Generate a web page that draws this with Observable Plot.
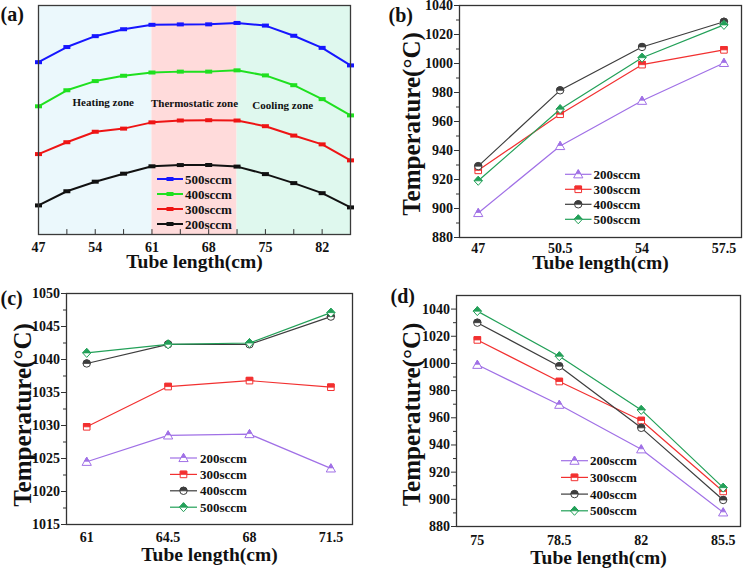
<!DOCTYPE html>
<html>
<head>
<meta charset="utf-8">
<script src="https://cdn.jsdelivr.net/npm/d3@7"></script>
<script src="https://cdn.jsdelivr.net/npm/@observablehq/plot@0.6"></script>
<style>
  html, body { margin: 0; padding: 0; background: #fff; }
  #chart { position: relative; width: 746px; height: 568px; overflow: hidden; }
  #chart svg { position: absolute; overflow: visible; }
</style>
</head>
<body>
<div id="chart"></div>
<script>
// ---------- data ----------
const flows = ["200sccm", "300sccm", "400sccm", "500sccm"];
const lenB = [47, 50.5, 54, 57.5];
const lenC = [61, 64.5, 68, 71.5];
const lenD = [75, 78.5, 82, 85.5];
// panel (b): heating zone
const b200 = [896.9, 943.1, 974.3, 1000.4];
const b300 = [926.3, 965.0, 999.2, 1009.4];
const b400 = [929.2, 981.5, 1011.4, 1028.8];
const b500 = [919.1, 968.5, 1004.0, 1026.6];
// panel (c): thermostatic zone
const c200 = [1024.5, 1028.5, 1028.7, 1023.5];
const c300 = [1029.8, 1035.9, 1036.8, 1035.8];
const c400 = [1039.4, 1042.3, 1042.3, 1046.5];
const c500 = [1041.0, 1042.3, 1042.5, 1047.1];
// panel (d): cooling zone
const d200 = [999.0, 969.6, 936.8, 890.4];
const d300 = [1017.3, 986.7, 958.0, 905.8];
const d400 = [1030.0, 998.0, 952.6, 899.5];
const d500 = [1038.5, 1005.3, 965.8, 908.6];
// panel (a): same readings along the whole tube, curves lifted by an offset
const aOffset = [0, 138, 291, 445];
const zoneNames = ["Heating zone", "Thermostatic zone", "Cooling zone"];
const zoneStart = [47, 61, 71.5];
const zoneEnd = [61, 71.5, 85.5];
const ticksA = [47, 54, 61, 68, 75, 82];
const ticksBMajor = [880, 900, 920, 940, 960, 980, 1000, 1020, 1040];
const ticksBMinor = [890, 910, 930, 950, 970, 990, 1010, 1030];
const ticksCMajor = [1015, 1020, 1025, 1030, 1035, 1040, 1045, 1050];
const ticksCMinor = [1017.5, 1022.5, 1027.5, 1032.5, 1037.5, 1042.5, 1047.5];

// ---------- styling ----------
const FONT = "'Liberation Serif', 'Times New Roman', serif";
const INK = "#111";
const flowColor = ["#a070e6", "#f23030", "#3d3d3d", "#22a058"];
const aColor = ["#111111", "#ee1414", "#1fe01f", "#1616ff"];
const zoneFill = ["#ebf8fc", "#ffdbdb", "#dff8ee"];
const symR = [4.2, 3.3, 3.7, 4.1];

const rad = s => Math.sqrt(s / Math.PI);
const triFull = {draw(c, s) { const r = rad(s); c.moveTo(0, -1.1 * r); c.lineTo(1.1 * r, 0.85 * r); c.lineTo(-1.1 * r, 0.85 * r); c.closePath(); }};
const triHalf = {draw(c, s) { const r = rad(s); const ym = -0.125 * r; const f = (ym + 1.1 * r) / (1.95 * r);
  c.moveTo(0, -1.1 * r); c.lineTo(1.1 * r * f, ym); c.lineTo(-1.1 * r * f, ym); c.closePath(); }};
const sqFull = {draw(c, s) { const r = rad(s); c.rect(-r, -r, 2 * r, 2 * r); }};
const sqHalf = {draw(c, s) { const r = rad(s); c.rect(-r, -r, 2 * r, r); }};
const ciFull = {draw(c, s) { const r = rad(s); c.moveTo(r, 0); c.arc(0, 0, r, 0, 2 * Math.PI); c.closePath(); }};
const ciHalf = {draw(c, s) { const r = rad(s); c.moveTo(r, 0); c.arc(0, 0, r, 0, Math.PI, true); c.closePath(); }};
const diFull = {draw(c, s) { const r = rad(s); c.moveTo(0, -1.1 * r); c.lineTo(r, 0); c.lineTo(0, 1.1 * r); c.lineTo(-r, 0); c.closePath(); }};
const diHalf = {draw(c, s) { const r = rad(s); c.moveTo(0, -1.1 * r); c.lineTo(r, 0); c.lineTo(-r, 0); c.closePath(); }};
const boxSym = {draw(c, s) { c.rect(-3.5, -2, 7, 4); }};
const fullSym = [triFull, sqFull, ciFull, diFull];
const halfSym = [triHalf, sqHalf, ciHalf, diHalf];

const chart = document.getElementById("chart");

function drawLegend(svg, o) {
  const g = d3.select(svg).append("g")
    .attr("font-family", FONT).attr("font-weight", "bold").attr("font-size", o.fontSize)
    .attr("text-anchor", "start");
  o.order.forEach((k, j) => {
    const y = o.y0 + j * o.step;
    const cx = (o.x0 + o.x1) / 2;
    g.append("line").attr("x1", o.x0).attr("x2", o.x1).attr("y1", y).attr("y2", y)
      .attr("stroke", o.colors[k]).attr("stroke-width", o.lineWidth);
    o.layers(k).forEach(([sym, fill, stroke, sw]) => {
      const p = d3.path();
      sym.draw(p, Math.PI * o.r[k] * o.r[k]);
      g.append("path").attr("d", p.toString()).attr("transform", `translate(${cx},${y})`)
        .attr("fill", fill).attr("stroke", stroke).attr("stroke-width", sw);
    });
    g.append("text").attr("x", o.tx).attr("y", y).attr("dy", "0.35em")
      .attr("text-anchor", "start").attr("fill", INK).text(flows[k]);
  });
}

function place(svg, left, top) {
  svg.style.left = left + "px";
  svg.style.top = top + "px";
  chart.appendChild(svg);
}

// ---------- panel (a) ----------
(function panelA() {
  const xs = [...lenB, ...lenC, ...lenD];
  const all = [[...b200, ...c200, ...d200], [...b300, ...c300, ...d300],
               [...b400, ...c400, ...d400], [...b500, ...c500, ...d500]];
  const rows = [];
  all.forEach((arr, k) => arr.forEach((t, i) => rows.push({k, x: xs[i], y: t + aOffset[k]})));
  const yDom = [802, 1549];
  const marks = [
    Plot.rect(zoneNames, {x1: (d, i) => zoneStart[i], x2: (d, i) => zoneEnd[i], fill: (d, i) => zoneFill[i]}),
    Plot.ruleX(xs, {x: d => d, y1: yDom[0], y2: yDom[0] + 16, stroke: "#333", strokeWidth: 1}),
    Plot.axisX({ticks: ticksA, tickSize: 0, tickPadding: 7.5, label: null, tickFormat: d => String(d)}),
    Plot.text(["Tube length(cm)"], {text: d => d, frameAnchor: "bottom", textAnchor: "middle", lineAnchor: "middle", dy: 27, fontSize: 19.5}),
    Plot.text(["(a)"], {text: d => d, frameAnchor: "top-left", textAnchor: "start", lineAnchor: "middle", dx: -38, dy: 9, fontSize: 20})
  ];
  const zoneDx = [8, 0, -11], zoneDy = [-17.5, -16.5, -14.5];
  zoneNames.forEach((z, i) => marks.push(Plot.text([z], {
    text: d => d, x: (zoneStart[i] + zoneEnd[i]) / 2, frameAnchor: "middle", textAnchor: "middle",
    dx: zoneDx[i], dy: zoneDy[i], fontSize: 11
  })));
  flows.forEach((f, k) => {
    const s = rows.filter(d => d.k === k);
    marks.push(Plot.line(s, {x: "x", y: "y", stroke: aColor[k], strokeWidth: 2}));
    marks.push(Plot.dot(s, {x: "x", y: "y", symbol: boxSym, r: 3, fill: aColor[k], stroke: "none"}));
  });
  marks.push(Plot.frame({stroke: "#3a3a3a", strokeWidth: 1.3}));
  const svg = Plot.plot({
    width: 373, height: 284,
    marginTop: 5, marginLeft: 38, marginRight: 23, marginBottom: 50,
    x: {domain: [47, 85.5]},
    y: {domain: yDom, axis: null},
    color: {type: "identity"},
    style: {fontFamily: FONT, fontWeight: "bold", fontSize: "14px", color: INK, background: "transparent"},
    marks
  });
  drawLegend(svg, {
    order: [3, 2, 1, 0], x0: 157, x1: 183, tx: 185, y0: 179, step: 15, fontSize: 13,
    colors: aColor, lineWidth: 2, r: [3, 3, 3, 3],
    layers: k => [[boxSym, aColor[k], "none", 0]]
  });
  place(svg, 0, 0);
})();

// ---------- panels (b), (c), (d) ----------
function smallPanel(p) {
  const rows = [];
  p.temps.forEach((arr, k) => arr.forEach((t, i) => rows.push({k, x: p.lengths[i], t})));
  const marks = [
    Plot.axisY({ticks: p.yMinor, tickSize: 3, fill: "none", stroke: "#333", label: null}),
    Plot.axisY({ticks: p.yMajor, tickSize: 5, tickPadding: 1.5, stroke: "#333", label: null, tickFormat: d => String(d)}),
    Plot.axisX({ticks: p.lengths, tickSize: 0, tickPadding: p.xPad, label: null, tickFormat: d => String(d)}),
    Plot.text(["Tube length(cm)"], {text: d => d, frameAnchor: "bottom", textAnchor: "middle", lineAnchor: "middle", dy: p.xTitleDy, fontSize: 19.5}),
    Plot.text(["Temperature(°C)"], {text: d => d, frameAnchor: "left", textAnchor: "middle", rotate: -90, lineAnchor: "middle", dx: p.yTitleDx, dy: p.yTitleDy, fontSize: 25}),
    Plot.text([p.label], {text: d => d, frameAnchor: "top-left", textAnchor: "start", lineAnchor: "middle", dx: p.labelDx, dy: p.labelDy, fontSize: 20})
  ];
  flows.forEach((f, k) => {
    const s = rows.filter(d => d.k === k);
    marks.push(Plot.line(s, {x: "x", y: "t", stroke: flowColor[k], strokeWidth: 1.2}));
    marks.push(Plot.dot(s, {x: "x", y: "t", symbol: fullSym[k], r: symR[k], fill: "white", stroke: flowColor[k], strokeWidth: 1}));
    marks.push(Plot.dot(s, {x: "x", y: "t", symbol: halfSym[k], r: symR[k], fill: flowColor[k], stroke: flowColor[k], strokeWidth: 0.8}));
  });
  marks.push(Plot.frame({stroke: "#333", strokeWidth: 1.3}));
  const svg = Plot.plot({
    width: 373, height: 284,
    marginTop: p.m[0], marginRight: p.m[1], marginBottom: p.m[2], marginLeft: p.m[3],
    x: {domain: p.xDomain},
    y: {domain: p.yDomain},
    style: {fontFamily: FONT, fontWeight: "bold", fontSize: "14px", color: INK, background: "transparent"},
    marks
  });
  drawLegend(svg, {
    order: [0, 1, 2, 3], x0: p.leg[0], x1: p.leg[1], tx: p.leg[2], y0: p.leg[3], step: p.leg[4], fontSize: 13,
    colors: flowColor, lineWidth: 1.2, r: symR,
    layers: k => [[fullSym[k], "white", flowColor[k], 1], [halfSym[k], flowColor[k], flowColor[k], 0.8]]
  });
  place(svg, p.left, p.top);
}

smallPanel({
  left: 373, top: 0, label: "(b)", lengths: lenB, temps: [b200, b300, b400, b500],
  m: [5, 5, 47, 86], xDomain: [46.2, 58.25], yDomain: [880, 1040],
  yMajor: ticksBMajor, yMinor: ticksBMinor, xPad: 5.6,
  xTitleDy: 25, yTitleDx: -48, yTitleDy: 2.5, labelDx: -71, labelDy: 10,
  leg: [192, 218.5, 220.5, 174.3, 15]
});
smallPanel({
  left: 0, top: 284, label: "(c)", lengths: lenC, temps: [c200, c300, c400, c500],
  m: [9, 21, 44, 66], xDomain: [60.13, 72.43], yDomain: [1015, 1050],
  yMajor: ticksCMajor, yMinor: ticksCMinor, xPad: 7.3,
  xTitleDy: 30, yTitleDx: -44, yTitleDy: 6, labelDx: -66, labelDy: 5.5,
  leg: [170, 197, 200, 174, 16.4]
});
smallPanel({
  left: 373, top: 284, label: "(d)", lengths: lenD, temps: [d200, d300, d400, d500],
  m: [11, 6, 42, 83], xDomain: [74.11, 86.24], yDomain: [880, 1050],
  yMajor: ticksBMajor, yMinor: ticksBMinor, xPad: 9,
  xTitleDy: 31, yTitleDx: -45, yTitleDy: 3.5, labelDx: -66, labelDy: 1,
  leg: [188, 215, 217, 176.7, 16.7]
});
</script>
</body>
</html>
